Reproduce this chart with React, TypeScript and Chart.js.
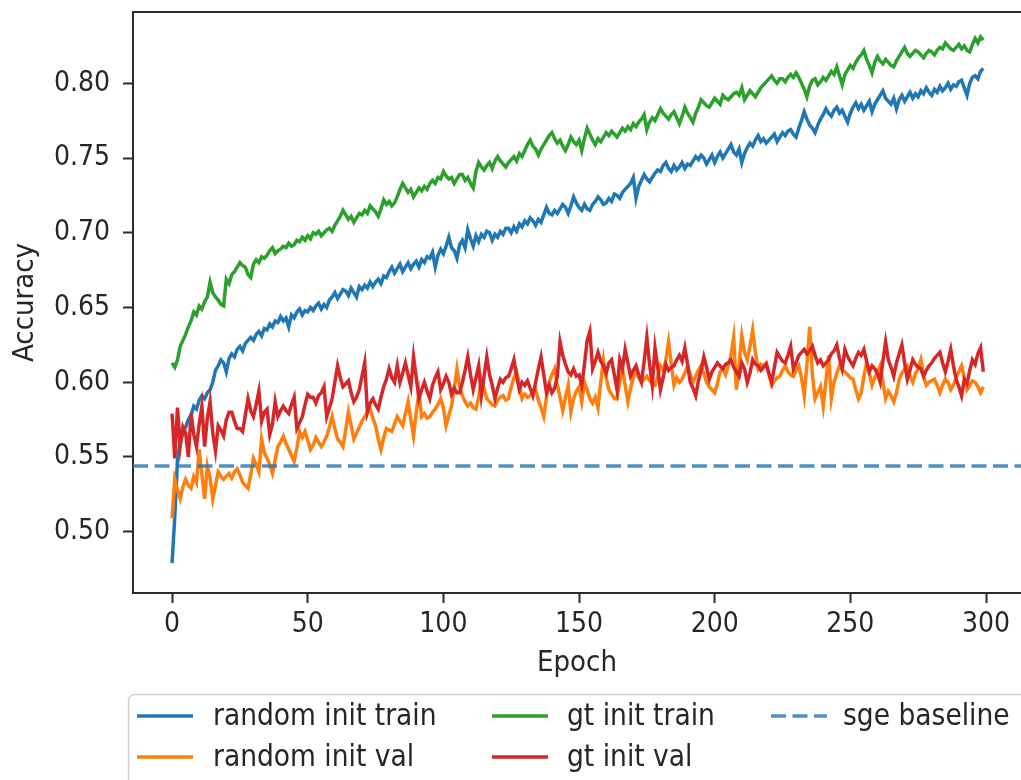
import React, { useEffect, useRef } from 'react';
import { Chart, registerables } from 'chart.js';

Chart.register(...registerables);

// ---------------- data ----------------
const SERIES_NAMES = ['random init train', 'random init val', 'gt init train', 'gt init val', 'sge baseline'];
const SERIES_COLORS = ['#1f77b4', '#ff7f0e', '#2ca02c', '#d62728', 'rgba(31,119,180,0.8)'];

const X_TICKS = [0, 50, 100, 150, 200, 250, 300];
const Y_TICKS = [0.5, 0.55, 0.6, 0.65, 0.7, 0.75, 0.8];
const X_MIN = -14.4;
const X_MAX = 312.9;
const Y_MIN = 0.459;
const Y_MAX = 0.8477;

const SGE_BASELINE = 0.544;

const RANDOM_TRAIN = [
  0.479, 0.510, 0.548, 0.560, 0.566, 0.570, 0.575, 0.578, 0.584, 0.582,
  0.588, 0.591, 0.589, 0.593, 0.595, 0.600, 0.608, 0.611, 0.615, 0.613,
  0.607, 0.616, 0.619, 0.617, 0.622, 0.624, 0.621, 0.626, 0.628, 0.630,
  0.628, 0.632, 0.634, 0.631, 0.636, 0.635, 0.639, 0.637, 0.641, 0.640,
  0.644, 0.641, 0.643, 0.637, 0.645, 0.643, 0.647, 0.649, 0.645, 0.648,
  0.647, 0.650, 0.648, 0.651, 0.653, 0.649, 0.652, 0.650, 0.655, 0.657,
  0.660, 0.656, 0.659, 0.662, 0.661, 0.658, 0.663, 0.660, 0.657, 0.664,
  0.662, 0.665, 0.663, 0.667, 0.664, 0.667, 0.669, 0.666, 0.671, 0.670,
  0.674, 0.677, 0.673, 0.676, 0.679, 0.674, 0.677, 0.680, 0.676, 0.679,
  0.681, 0.677, 0.682, 0.680, 0.684, 0.683, 0.687, 0.677, 0.685, 0.689,
  0.686, 0.691, 0.697, 0.690, 0.688, 0.683, 0.692, 0.695, 0.690, 0.702,
  0.696, 0.691, 0.698, 0.694, 0.699, 0.697, 0.701, 0.700, 0.695, 0.699,
  0.697, 0.701, 0.699, 0.703, 0.703, 0.700, 0.704, 0.701, 0.706, 0.704,
  0.708, 0.706, 0.710, 0.708, 0.705, 0.709, 0.707, 0.712, 0.717, 0.713,
  0.712, 0.715, 0.713, 0.716, 0.719, 0.717, 0.713, 0.718, 0.724, 0.720,
  0.717, 0.715, 0.719, 0.716, 0.715, 0.719, 0.721, 0.724, 0.722, 0.719,
  0.720, 0.723, 0.721, 0.726, 0.725, 0.723, 0.727, 0.729, 0.731, 0.733,
  0.737, 0.723, 0.731, 0.735, 0.739, 0.736, 0.734, 0.737, 0.740, 0.742,
  0.741, 0.745, 0.747, 0.743, 0.741, 0.745, 0.742, 0.744, 0.747, 0.743,
  0.746, 0.745, 0.748, 0.751, 0.749, 0.752, 0.750, 0.746, 0.749, 0.752,
  0.747, 0.751, 0.754, 0.750, 0.753, 0.756, 0.759, 0.754, 0.752, 0.756,
  0.747, 0.753, 0.757, 0.760, 0.758, 0.762, 0.765, 0.761, 0.763, 0.760,
  0.762, 0.764, 0.766, 0.761, 0.764, 0.767, 0.765, 0.768, 0.769, 0.766,
  0.764, 0.770, 0.775, 0.781, 0.776, 0.772, 0.770, 0.767, 0.772, 0.776,
  0.779, 0.783, 0.780, 0.778, 0.782, 0.784, 0.780, 0.782, 0.778, 0.774,
  0.780, 0.784, 0.787, 0.783, 0.786, 0.782, 0.785, 0.788, 0.781, 0.786,
  0.789, 0.792, 0.795, 0.790, 0.788, 0.786, 0.790, 0.783, 0.789, 0.792,
  0.788, 0.791, 0.794, 0.790, 0.793, 0.791, 0.795, 0.793, 0.797, 0.794,
  0.792, 0.796, 0.794, 0.798, 0.795, 0.797, 0.800, 0.796, 0.799, 0.798,
  0.801, 0.802, 0.797, 0.792, 0.800, 0.804, 0.805, 0.803, 0.808, 0.810,
];

const RANDOM_VAL = [
  0.509, 0.535, 0.528, 0.522, 0.530, 0.535, 0.531, 0.529, 0.537, 0.533,
  0.555, 0.538, 0.522, 0.544, 0.536, 0.522, 0.531, 0.540, 0.537, 0.535,
  0.537, 0.539, 0.536, 0.540, 0.542, 0.538, 0.533, 0.531, 0.529, 0.538,
  0.549, 0.545, 0.540, 0.562, 0.553, 0.549, 0.545, 0.539, 0.548, 0.557,
  0.560, 0.564, 0.559, 0.555, 0.551, 0.547, 0.556, 0.567, 0.563, 0.567,
  0.561, 0.555, 0.558, 0.563, 0.560, 0.557, 0.560, 0.564, 0.570, 0.577,
  0.569, 0.562, 0.560, 0.557, 0.568, 0.580, 0.571, 0.562, 0.566, 0.570,
  0.574, 0.577, 0.580, 0.582, 0.576, 0.571, 0.562, 0.555, 0.563, 0.569,
  0.568, 0.567, 0.572, 0.577, 0.574, 0.571, 0.579, 0.587, 0.575, 0.564,
  0.580, 0.593, 0.577, 0.579, 0.576, 0.577, 0.580, 0.582, 0.585, 0.589,
  0.583, 0.571, 0.578, 0.584, 0.596, 0.609, 0.597, 0.591, 0.587, 0.584,
  0.586, 0.583, 0.582, 0.590, 0.602, 0.596, 0.589, 0.587, 0.585, 0.584,
  0.588, 0.590, 0.591, 0.588, 0.589, 0.597, 0.603, 0.607, 0.598, 0.589,
  0.592, 0.590, 0.591, 0.593, 0.595, 0.588, 0.583, 0.577, 0.590, 0.600,
  0.605, 0.609, 0.598, 0.590, 0.581, 0.590, 0.598, 0.580, 0.589, 0.594,
  0.597, 0.587, 0.600, 0.595, 0.589, 0.586, 0.590, 0.583, 0.600, 0.615,
  0.603, 0.595, 0.592, 0.589, 0.589, 0.600, 0.609, 0.598, 0.587, 0.596,
  0.603, 0.607, 0.603, 0.600, 0.602, 0.604, 0.601, 0.599, 0.598, 0.604,
  0.611, 0.608, 0.615, 0.627, 0.612, 0.598, 0.603, 0.600, 0.602, 0.606,
  0.611, 0.605, 0.600, 0.604, 0.608, 0.611, 0.606, 0.600, 0.597, 0.595,
  0.593, 0.599, 0.607, 0.609, 0.605, 0.611, 0.618, 0.630, 0.595, 0.612,
  0.631, 0.620, 0.615, 0.624, 0.635, 0.620, 0.609, 0.612, 0.611, 0.613,
  0.605, 0.598, 0.601, 0.603, 0.604, 0.608, 0.611, 0.607, 0.605, 0.604,
  0.608, 0.611, 0.603, 0.591, 0.612, 0.637, 0.605, 0.589, 0.593, 0.597,
  0.584, 0.601, 0.618, 0.589, 0.600, 0.606, 0.611, 0.608, 0.607, 0.605,
  0.603, 0.602, 0.595, 0.589, 0.593, 0.604, 0.613, 0.606, 0.598, 0.603,
  0.607, 0.611, 0.600, 0.589, 0.594, 0.591, 0.587, 0.593, 0.602, 0.606,
  0.609, 0.611, 0.604, 0.600, 0.606, 0.609, 0.615, 0.604, 0.598, 0.600,
  0.601, 0.602, 0.598, 0.593, 0.598, 0.602, 0.600, 0.595, 0.598, 0.603,
  0.607, 0.611, 0.603, 0.595, 0.598, 0.601, 0.600, 0.597, 0.593, 0.597,
];

const GT_TRAIN = [
  0.613, 0.610, 0.615, 0.624, 0.628, 0.632, 0.637, 0.641, 0.647, 0.645,
  0.651, 0.649, 0.654, 0.657, 0.667, 0.660, 0.657, 0.655, 0.652, 0.651,
  0.669, 0.666, 0.672, 0.674, 0.677, 0.680, 0.678, 0.677, 0.672, 0.670,
  0.679, 0.682, 0.680, 0.684, 0.683, 0.685, 0.688, 0.690, 0.686, 0.688,
  0.689, 0.691, 0.690, 0.693, 0.691, 0.692, 0.695, 0.694, 0.697, 0.695,
  0.698, 0.696, 0.700, 0.699, 0.701, 0.698, 0.700, 0.702, 0.703, 0.701,
  0.705, 0.708, 0.711, 0.715, 0.712, 0.709, 0.711, 0.707, 0.710, 0.713,
  0.712, 0.715, 0.713, 0.718, 0.716, 0.714, 0.711, 0.716, 0.722, 0.719,
  0.721, 0.718, 0.720, 0.724, 0.729, 0.733, 0.730, 0.727, 0.729, 0.724,
  0.727, 0.730, 0.728, 0.731, 0.729, 0.733, 0.735, 0.733, 0.737, 0.736,
  0.741, 0.738, 0.736, 0.737, 0.733, 0.736, 0.739, 0.739, 0.735, 0.737,
  0.733, 0.730, 0.741, 0.747, 0.744, 0.742, 0.745, 0.747, 0.743, 0.748,
  0.751, 0.748, 0.746, 0.744, 0.747, 0.749, 0.751, 0.748, 0.753, 0.751,
  0.755, 0.759, 0.762, 0.758, 0.756, 0.752, 0.756, 0.759, 0.762, 0.765,
  0.767, 0.763, 0.760, 0.762, 0.758, 0.755, 0.759, 0.764, 0.761, 0.759,
  0.762, 0.755, 0.763, 0.770, 0.766, 0.762, 0.759, 0.763, 0.761, 0.764,
  0.767, 0.765, 0.768, 0.766, 0.764, 0.767, 0.770, 0.768, 0.771, 0.769,
  0.773, 0.771, 0.774, 0.776, 0.779, 0.769, 0.774, 0.777, 0.775, 0.779,
  0.783, 0.780, 0.778, 0.776, 0.779, 0.781, 0.777, 0.773, 0.778, 0.784,
  0.780, 0.777, 0.774, 0.780, 0.784, 0.789, 0.787, 0.785, 0.784, 0.787,
  0.790, 0.788, 0.786, 0.792, 0.790, 0.789, 0.791, 0.793, 0.794, 0.792,
  0.797, 0.789, 0.792, 0.795, 0.793, 0.791, 0.794, 0.797, 0.799, 0.801,
  0.803, 0.805, 0.802, 0.800, 0.803, 0.803, 0.801, 0.804, 0.806, 0.804,
  0.807, 0.804, 0.800, 0.796, 0.791, 0.798, 0.802, 0.803, 0.799, 0.801,
  0.804, 0.802, 0.805, 0.808, 0.806, 0.811, 0.805, 0.799, 0.806, 0.809,
  0.812, 0.810, 0.814, 0.817, 0.819, 0.822, 0.816, 0.812, 0.807, 0.814,
  0.818, 0.815, 0.813, 0.816, 0.814, 0.812, 0.811, 0.815, 0.818, 0.821,
  0.824, 0.820, 0.818, 0.820, 0.822, 0.821, 0.819, 0.817, 0.820, 0.822,
  0.821, 0.819, 0.822, 0.824, 0.823, 0.827, 0.825, 0.823, 0.822, 0.824,
  0.826, 0.823, 0.825, 0.822, 0.821, 0.826, 0.830, 0.827, 0.831, 0.829,
];

const GT_VAL = [
  0.579, 0.549, 0.583, 0.557, 0.570, 0.566, 0.550, 0.579, 0.565, 0.557,
  0.572, 0.584, 0.557, 0.576, 0.587, 0.566, 0.554, 0.571, 0.568, 0.564,
  0.575, 0.580, 0.580, 0.574, 0.569, 0.569, 0.567, 0.578, 0.589, 0.581,
  0.577, 0.585, 0.594, 0.574, 0.580, 0.582, 0.565, 0.572, 0.587, 0.577,
  0.581, 0.584, 0.581, 0.579, 0.585, 0.590, 0.569, 0.573, 0.577, 0.585,
  0.592, 0.590, 0.590, 0.586, 0.591, 0.593, 0.597, 0.577, 0.583, 0.589,
  0.600, 0.611, 0.603, 0.597, 0.599, 0.601, 0.593, 0.587, 0.590, 0.595,
  0.604, 0.613, 0.580, 0.586, 0.589, 0.585, 0.582, 0.590, 0.597, 0.602,
  0.609, 0.603, 0.600, 0.611, 0.600, 0.606, 0.613, 0.605, 0.597, 0.617,
  0.603, 0.589, 0.595, 0.600, 0.594, 0.589, 0.598, 0.603, 0.607, 0.595,
  0.599, 0.604, 0.600, 0.592, 0.596, 0.593, 0.593, 0.600, 0.608, 0.617,
  0.605, 0.595, 0.603, 0.611, 0.591, 0.604, 0.617, 0.605, 0.598, 0.589,
  0.596, 0.602, 0.600, 0.603, 0.604, 0.609, 0.615, 0.604, 0.595, 0.600,
  0.598, 0.601, 0.596, 0.591, 0.600, 0.609, 0.617, 0.605, 0.593, 0.598,
  0.593, 0.596, 0.604, 0.627, 0.618, 0.612, 0.607, 0.605, 0.609, 0.604,
  0.605, 0.598, 0.612, 0.628, 0.634, 0.609, 0.614, 0.620, 0.614, 0.611,
  0.606, 0.613, 0.615, 0.605, 0.595, 0.615, 0.609, 0.622, 0.613, 0.604,
  0.608, 0.611, 0.605, 0.600, 0.614, 0.630, 0.612, 0.598, 0.623, 0.610,
  0.595, 0.603, 0.612, 0.608, 0.610, 0.611, 0.615, 0.618, 0.614, 0.623,
  0.612, 0.600, 0.596, 0.591, 0.601, 0.608, 0.617, 0.610, 0.602, 0.607,
  0.610, 0.613, 0.611, 0.609, 0.612, 0.613, 0.615, 0.610, 0.607, 0.604,
  0.613, 0.609, 0.600, 0.606, 0.615, 0.612, 0.611, 0.608, 0.610, 0.612,
  0.606, 0.600, 0.610, 0.620, 0.617, 0.614, 0.613, 0.618, 0.624, 0.609,
  0.613, 0.618, 0.620, 0.622, 0.619, 0.621, 0.624, 0.618, 0.613, 0.615,
  0.611, 0.613, 0.615, 0.619, 0.621, 0.625, 0.616, 0.609, 0.622, 0.617,
  0.614, 0.611, 0.616, 0.620, 0.618, 0.622, 0.614, 0.607, 0.611, 0.609,
  0.606, 0.600, 0.614, 0.627, 0.615, 0.610, 0.604, 0.613, 0.619, 0.625,
  0.613, 0.602, 0.608, 0.615, 0.612, 0.610, 0.609, 0.604, 0.608, 0.611,
  0.613, 0.616, 0.618, 0.620, 0.613, 0.607, 0.614, 0.622, 0.611, 0.602,
  0.597, 0.591, 0.602, 0.599, 0.608, 0.615, 0.612, 0.619, 0.623, 0.607,
];

// ---------------- styling ----------------
const FONT_FAMILY = "'DejaVu Sans Condensed', 'Liberation Sans', 'DejaVu Sans', sans-serif";
const TEXT_COLOR = '#262626';
const SPINE_COLOR = '#2b2b2b';

const toPoints = (vals: number[]) => vals.map((v, i) => ({ x: i, y: v }));

const topSpinePlugin = {
  id: 'topSpine',
  afterDatasetsDraw(chart: any) {
    const { ctx, chartArea } = chart;
    ctx.save();
    ctx.strokeStyle = SPINE_COLOR;
    ctx.lineWidth = 2;
    ctx.beginPath();
    ctx.moveTo(chartArea.left - 1, chartArea.top);
    ctx.lineTo(chartArea.right + 2, chartArea.top);
    ctx.stroke();
    ctx.restore();
  },
};

const mplLegendPlugin = {
  id: 'mplLegend',
  afterDraw(chart: any) {
    const { ctx } = chart;
    const datasets = chart.data.datasets;
    ctx.save();
    ctx.fillStyle = 'rgba(255,255,255,0.8)';
    ctx.strokeStyle = '#d0d0d0';
    ctx.lineWidth = 1.5;
    ctx.beginPath();
    (ctx as any).roundRect(128.5, 694.5, 1000, 200, 6);
    ctx.fill();
    ctx.stroke();

    const colHandle = [137, 492, 771];
    const colText = [213, 567, 843];
    const rowY = [716, 757];
    const handleLen = 56;
    ctx.font = `29.5px ${FONT_FAMILY}`;
    ctx.textBaseline = 'middle';
    ctx.textAlign = 'left';
    datasets.forEach((ds: any, i: number) => {
      const col = Math.floor(i / 2);
      const row = i % 2;
      const y = rowY[row];
      ctx.strokeStyle = ds.borderColor;
      ctx.lineWidth = ds.borderWidth;
      ctx.setLineDash(ds.borderDash || []);
      ctx.beginPath();
      ctx.moveTo(colHandle[col], y);
      ctx.lineTo(colHandle[col] + handleLen, y);
      ctx.stroke();
      ctx.setLineDash([]);
      ctx.fillStyle = TEXT_COLOR;
      ctx.fillText(ds.label, colText[col], y + 1);
    });
    ctx.restore();
  },
};

export default function App() {
  const canvasRef = useRef<HTMLCanvasElement | null>(null);

  useEffect(() => {
    if (!canvasRef.current) return;
    const series = [RANDOM_TRAIN, RANDOM_VAL, GT_TRAIN, GT_VAL];
    const drawOrder = [4, 3, 2, 1];
    const datasets: any[] = series.map((vals, i) => ({
      label: SERIES_NAMES[i],
      data: toPoints(vals),
      borderColor: SERIES_COLORS[i],
      backgroundColor: SERIES_COLORS[i],
      borderWidth: 3.5,
      pointRadius: 0,
      tension: 0,
      fill: false,
      order: drawOrder[i],
    }));
    datasets.push({
      label: SERIES_NAMES[4],
      data: [
        { x: X_MIN, y: SGE_BASELINE },
        { x: X_MAX, y: SGE_BASELINE },
      ],
      borderColor: SERIES_COLORS[4],
      backgroundColor: SERIES_COLORS[4],
      borderWidth: 3.5,
      borderDash: [15, 6.5],
      pointRadius: 0,
      tension: 0,
      fill: false,
      order: 0,
    });

    const chart = new Chart(canvasRef.current, {
      type: 'line',
      data: { datasets },
      plugins: [topSpinePlugin, mplLegendPlugin],
      options: {
        animation: false,
        responsive: false,
        maintainAspectRatio: false,
        layout: { padding: { top: 12, left: 0, right: 0, bottom: 0 } },
        plugins: {
          legend: { display: false },
          tooltip: { enabled: false },
        },
        scales: {
          x: {
            type: 'linear',
            min: X_MIN,
            max: X_MAX,
            afterBuildTicks: (scale: any) => {
              scale.ticks = X_TICKS.map((v) => ({ value: v }));
            },
            afterFit: (scale: any) => {
              scale.height = 187;
              scale.paddingLeft = 0;
              scale.paddingRight = 0;
            },
            grid: {
              drawOnChartArea: false,
              drawTicks: true,
              tickLength: 10,
              tickColor: SPINE_COLOR,
              tickWidth: 2,
            },
            border: { display: true, color: SPINE_COLOR, width: 2 },
            ticks: {
              color: TEXT_COLOR,
              font: { family: FONT_FAMILY, size: 28 },
              padding: 5,
              maxRotation: 0,
              autoSkip: false,
              callback: (v: any) => String(v),
            },
            title: {
              display: true,
              text: 'Epoch',
              color: TEXT_COLOR,
              font: { family: FONT_FAMILY, size: 29 },
              padding: { top: 0, bottom: 99.6 },
            },
          },
          y: {
            type: 'linear',
            min: Y_MIN,
            max: Y_MAX,
            afterBuildTicks: (scale: any) => {
              scale.ticks = Y_TICKS.map((v) => ({ value: v }));
            },
            afterFit: (scale: any) => {
              scale.width = 133;
              scale.paddingTop = 0;
              scale.paddingBottom = 0;
            },
            grid: {
              drawOnChartArea: false,
              drawTicks: true,
              tickLength: 10,
              tickColor: SPINE_COLOR,
              tickWidth: 2,
            },
            border: { display: true, color: SPINE_COLOR, width: 2 },
            ticks: {
              color: TEXT_COLOR,
              font: { family: FONT_FAMILY, size: 28 },
              padding: 13,
              autoSkip: false,
              callback: (v: any) => Number(v).toFixed(2),
            },
            title: {
              display: true,
              text: 'Accuracy',
              color: TEXT_COLOR,
              font: { family: FONT_FAMILY, size: 29 },
              padding: { top: 7.6, bottom: 0 },
            },
          },
        },
      } as any,
    });
    return () => chart.destroy();
  }, []);

  return (
    <div style={{ position: 'absolute', left: 0, top: 0, width: 1021, height: 780, background: '#fff' }}>
      <canvas ref={canvasRef} width={1021} height={780} style={{ display: 'block', width: 1021, height: 780 }} />
    </div>
  );
}
